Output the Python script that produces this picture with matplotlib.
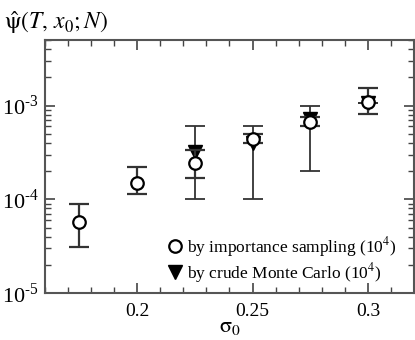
import numpy as np
import matplotlib
matplotlib.use("Agg")
import matplotlib.pyplot as plt
from matplotlib.lines import Line2D
from matplotlib.ticker import FixedLocator, LogLocator, NullFormatter, FuncFormatter, MultipleLocator

plt.rcParams['font.family'] = ['Liberation Serif', 'DejaVu Serif']
plt.rcParams['mathtext.fontset'] = 'stix'

# importance sampling (10^4)
sigma_is = [0.175, 0.2, 0.225, 0.25, 0.275, 0.3]
psi_is = [5.7e-5, 1.5e-4, 2.45e-4, 4.4e-4, 6.7e-4, 1.09e-3]
lo_is = [3.1e-5, 1.13e-4, 1.67e-4, 4.0e-4, 6.0e-4, 8.1e-4]
hi_is = [8.9e-5, 2.2e-4, 3.4e-4, 5.0e-4, 7.5e-4, 1.53e-3]

# crude Monte Carlo (10^4)
sigma_mc = [0.225, 0.25, 0.275, 0.3]
psi_mc = [3.2e-4, 4.0e-4, 7.2e-4, 1.07e-3]
lo_mc = [1.0e-4, 1.0e-4, 2.0e-4, 1.07e-3]
hi_mc = [6.1e-4, 6.1e-4, 9.9e-4, 1.07e-3]

x_ticks = [0.2, 0.25, 0.3]
y_ticks = [1e-5, 1e-4, 1e-3]

fig = plt.figure(figsize=(4.15, 3.4), dpi=100)
ax = fig.add_axes([0.108, 0.138, 0.89, 0.744])

ecol = '#333333'
mc_err = [np.array(psi_mc) - np.array(lo_mc), np.array(hi_mc) - np.array(psi_mc)]
ax.errorbar(sigma_mc, psi_mc, yerr=mc_err, fmt='v', color='black', ms=10,
            ecolor=ecol, elinewidth=1.3, capsize=7, capthick=1.3, zorder=2)
is_err = [np.array(psi_is) - np.array(lo_is), np.array(hi_is) - np.array(psi_is)]
ax.errorbar(sigma_is, psi_is, yerr=is_err, fmt='o', mfc='white', mec='black', mew=1.6,
            ms=9, ecolor=ecol, elinewidth=1.6, capsize=7, capthick=1.6, zorder=3)

ax.set_yscale('log')
ax.set_xlim(0.16, 0.32)
ax.set_ylim(1e-5, 5e-3)

ax.xaxis.set_major_locator(FixedLocator(x_ticks))
ax.xaxis.set_minor_locator(MultipleLocator(0.01))
ax.xaxis.set_major_formatter(FuncFormatter(lambda v, p: '%g' % v))
ax.yaxis.set_major_locator(FixedLocator(y_ticks))
ax.yaxis.set_minor_locator(LogLocator(base=10, subs=np.arange(2, 10)))
ax.yaxis.set_minor_formatter(NullFormatter())
ax.yaxis.set_major_formatter(FuncFormatter(
    lambda v, p: r'10$^{\mathregular{\text{-}%d}}$' % abs(int(round(np.log10(v))))))

ax.tick_params(which='both', direction='in', top=True, right=True, color='#444444')
ax.tick_params(which='major', length=7, width=1.2, labelsize=16, pad=4)
ax.tick_params(which='minor', length=4, width=1.0)
ax.tick_params(axis='x', which='major', labelsize=14, pad=7)
for s in ax.spines.values():
    s.set_color('#555555')
    s.set_linewidth(1.5)

ax.set_xlabel(r'$\mathrm{\sigma}_0$', fontsize=16, labelpad=-1)
fig.text(0.01, 0.935, r'$\hat{\mathrm{\psi}}(T,\, x_0;N)$', fontsize=17, ha='left', va='center')

h_is = Line2D([], [], marker='o', ls='none', mfc='white', mec='black', mew=1.6, ms=9)
h_mc = Line2D([], [], marker='v', ls='none', color='black', ms=10)
ax.legend([h_is, h_mc], ['by importance sampling (10$^{4}$)', 'by crude Monte Carlo (10$^{4}$)'],
          loc='lower right', frameon=False, fontsize=12.5, handletextpad=0.1,
          handlelength=1.2, labelspacing=0.1, borderaxespad=0.3, bbox_to_anchor=(0.985, -0.015))

fig.savefig('out.png', dpi=100)
